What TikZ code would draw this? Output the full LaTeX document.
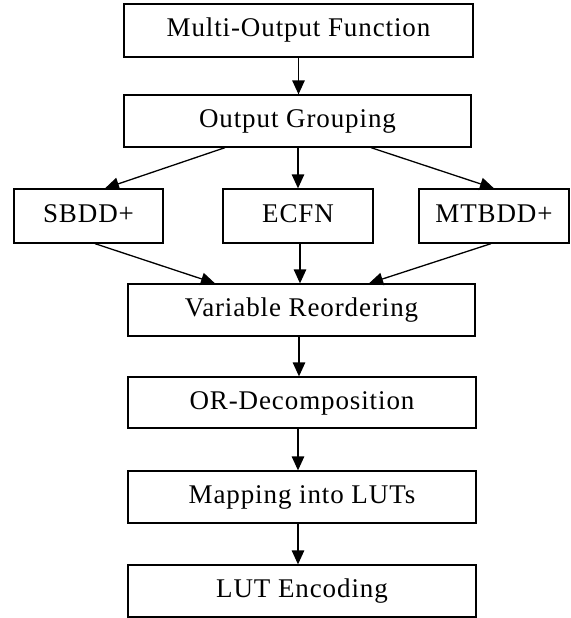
\documentclass[tikz,border=0pt]{standalone}
\usepackage{fontspec}
\setmainfont{Liberation Serif}[LetterSpace=3.3]
\usetikzlibrary{arrows.meta,calc}

\begin{document}
\begin{tikzpicture}[x=1pt,y=-1pt,line width=1.3pt,
  stepbox/.style={draw,rectangle,inner sep=0pt,minimum height=52pt,
    text height=19pt,text depth=6pt,font=\fontsize{27}{32}\selectfont},
  flow/.style={-{Triangle[length=14pt,width=12.5pt]}}]
\useasboundingbox (0,0) rectangle (570,618);
\node[stepbox,minimum width=349pt,minimum height=53pt] (mof) at (298.5,30.5) {Multi-Output Function};
\node[stepbox,minimum width=347pt] (grp) at (297.5,121) {Output Grouping};
\node[stepbox,minimum width=149pt,minimum height=54pt] (sbdd) at (88.5,216) {SBDD+};
\node[stepbox,minimum width=150pt,minimum height=54pt] (ecfn) at (298,216) {ECFN};
\node[stepbox,minimum width=150pt,minimum height=54pt] (mtbdd) at (494,216) {MTBDD+};
\node[stepbox,minimum width=347pt] (reord) at (301.5,310) {Variable Reordering};
\node[stepbox,minimum width=348pt,minimum height=51pt] (ordec) at (302,402.5) {OR-Decomposition};
\node[stepbox,minimum width=348pt] (lutmap) at (302,497) {Mapping into LUTs};
\node[stepbox,minimum width=348pt] (lutenc) at (302,591) {LUT Encoding};
\draw[flow] (mof.south) -- (mof.south |- grp.north);
\draw[flow] ([xshift=-72.5pt]grp.south) -- ([xshift=16.5pt]sbdd.north);
\draw[flow] (ecfn.north |- grp.south) -- (ecfn.north);
\draw[flow] ([xshift=73.5pt]grp.south) -- (mtbdd.north);
\draw[flow] ([xshift=6.5pt]sbdd.south) -- ([xshift=-86.5pt]reord.north);
\draw[flow] ([xshift=2pt]ecfn.south) -- ([xshift=-1.5pt]reord.north);
\draw[flow] ([xshift=-3pt]mtbdd.south) -- ([xshift=67.5pt]reord.north);
\draw[flow] ([xshift=-2.5pt]reord.south) -- ([xshift=-2.5pt]reord.south |- ordec.north);
\draw[flow] ([xshift=-4pt]ordec.south) -- ([xshift=-4pt]ordec.south |- lutmap.north);
\draw[flow] ([xshift=-4pt]lutmap.south) -- ([xshift=-4pt]lutmap.south |- lutenc.north);
\end{tikzpicture}
\end{document}
